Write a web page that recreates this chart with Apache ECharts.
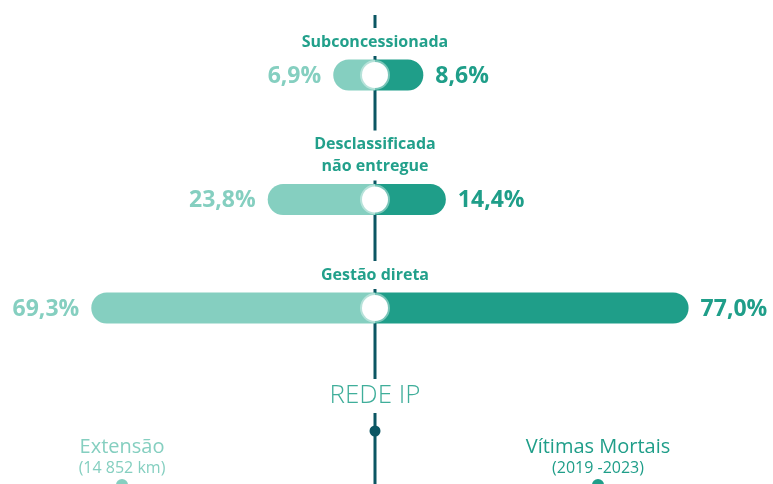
<!DOCTYPE html>
<html><head><meta charset="utf-8">
<script src="https://cdn.jsdelivr.net/npm/echarts@6/dist/echarts.min.js"></script>
<style>html,body{margin:0;padding:0;background:#fff}#c{width:773px;height:484px}</style>
</head><body><div id="c"></div>
<script>
// ---- data ----
const categories = ['Subconcessionada', 'Desclassificada\nnão entregue', 'Gestão direta'];
const extensaoValues = [6.9, 23.8, 69.3];
const vitimasValues = [8.6, 14.4, 77.0];
const seriesNames = ['Extensão', 'Vítimas Mortais'];
const seriesSubtitles = ['(14 852 km)', '(2019 -2023)'];
const centerTitle = 'REDE IP';

// ---- style ----
const LIGHT = '#85cfc0', DARK = '#1f9e89', SPINE = '#0b5663', TITLE = '#22a08b';
const BAR_H = 31, GAP = 15, LABEL_GAP = 12;
const ROW_SHIFT = [0, 8, 0];
const FONT = '"Open Sans", "Liberation Sans", sans-serif';
const fmt = v => v.toFixed(1).replace('.', ',') + '%';

const chart = echarts.init(document.getElementById('c'), null, {renderer: 'canvas'});

function barRender(side, color) {
  return function (params, api) {
    const idx = api.value(1);
    const v = api.value(0);
    const c0 = api.coord([0, idx]);
    const c1 = api.coord([side * v, idx]);
    const y = c0[1] + ROW_SHIFT[idx];
    const end = c1[0] + side * GAP;
    const x = side < 0 ? end : c0[0];
    const w = Math.abs(end - c0[0]);
    const r = BAR_H / 2;
    const children = [
      {type: 'rect', shape: {x: x, y: y - r, width: w, height: BAR_H, r: side < 0 ? [r, 0, 0, r] : [0, r, r, 0]}, style: {fill: color}},
      {type: 'text', style: {text: fmt(v), x: end + side * LABEL_GAP, y: y + 1, align: side < 0 ? 'right' : 'left', verticalAlign: 'middle',
        font: 'bold 23px ' + FONT, fill: color}}
    ];
    if (side > 0) {
      children.push({type: 'circle', shape: {cx: c0[0], cy: y, r: 13}, style: {fill: '#fff', stroke: 'rgba(255,255,255,0.4)', lineWidth: 4}});
      children.push({type: 'text', z2: 10, style: {text: categories[idx], x: c0[0], y: y - 19, align: 'center', verticalAlign: 'bottom',
        font: 'bold 16px ' + FONT, lineHeight: 22, fill: TITLE, backgroundColor: '#fff', padding: [3, 6]}});
    }
    return {type: 'group', children: children};
  };
}

const option = {
  animation: false,
  grid: {left: 26, width: 698, top: 16.75, height: 349.5},
  xAxis: {type: 'value', min: -90, max: 90, show: false},
  yAxis: {type: 'category', inverse: true, data: categories, show: false},
  graphic: [
    {type: 'line', z: 0, shape: {x1: 375, y1: 15, x2: 375, y2: 484}, style: {stroke: SPINE, lineWidth: 3}},
    {type: 'text', z: 1, style: {text: centerTitle, x: 375, y: 396, align: 'center', verticalAlign: 'middle',
      font: '300 26px ' + FONT, fill: '#3fae9a', backgroundColor: '#fff', padding: [4, 4]}},
    {type: 'circle', z: 1, shape: {cx: 375, cy: 431, r: 5.5}, style: {fill: SPINE}},
    {type: 'text', z: 1, style: {text: seriesNames[0], x: 122, y: 447, align: 'center', verticalAlign: 'middle', font: '20px ' + FONT, fill: LIGHT}},
    {type: 'text', z: 1, style: {text: seriesSubtitles[0], x: 122, y: 468, align: 'center', verticalAlign: 'middle', font: '16px ' + FONT, fill: LIGHT}},
    {type: 'circle', z: 1, shape: {cx: 122, cy: 485, r: 6}, style: {fill: LIGHT}},
    {type: 'text', z: 1, style: {text: seriesNames[1], x: 598, y: 447, align: 'center', verticalAlign: 'middle', font: '20px ' + FONT, fill: DARK}},
    {type: 'text', z: 1, style: {text: seriesSubtitles[1], x: 598, y: 468, align: 'center', verticalAlign: 'middle', font: '16px ' + FONT, fill: DARK}},
    {type: 'circle', z: 1, shape: {cx: 598, cy: 485, r: 6}, style: {fill: DARK}}
  ],
  series: [
    {type: 'custom', name: seriesNames[0], z: 5, renderItem: barRender(-1, LIGHT),
      data: extensaoValues.map((v, i) => [v, i])},
    {type: 'custom', name: seriesNames[1], z: 6, renderItem: barRender(1, DARK),
      data: vitimasValues.map((v, i) => [v, i])}
  ]
};
chart.setOption(option);
</script>
</body></html>
